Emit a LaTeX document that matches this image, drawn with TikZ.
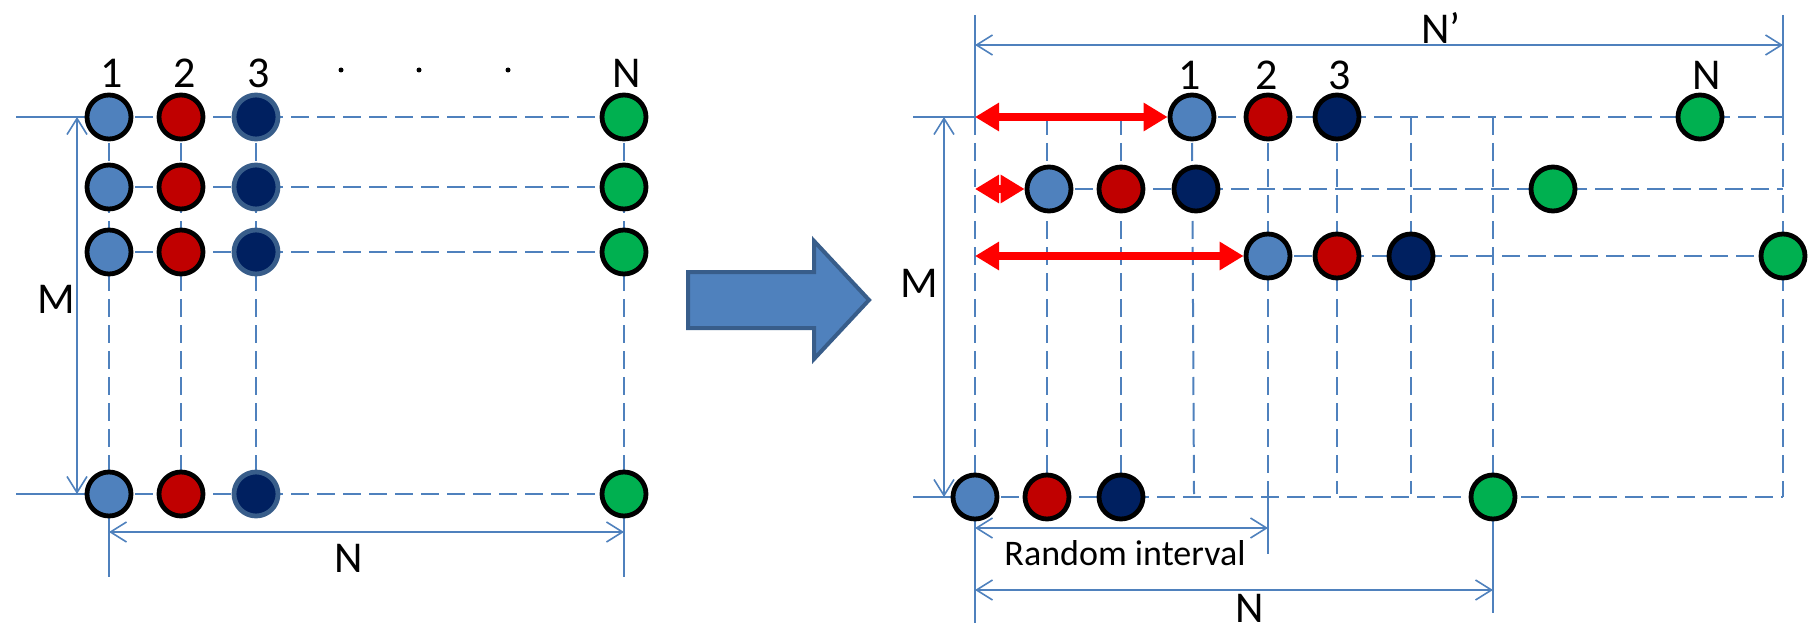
\documentclass[tikz,border=0pt]{standalone}
\usepackage{fontspec}
\setmainfont{Carlito}
\usetikzlibrary{arrows.meta}
\usetikzlibrary{backgrounds}

\definecolor{cellblue}{HTML}{4F81BD}
\definecolor{cellred}{HTML}{C00000}
\definecolor{cellnavy}{HTML}{002060}
\definecolor{cellgreen}{HTML}{00B050}
\definecolor{rimblue}{HTML}{385D8A}

\begin{document}
\begin{tikzpicture}
			[x=0.5pt, y=-0.5pt,
			cell/.style={circle, draw=black, line width=2.4pt, inner sep=0pt, minimum size=22pt},
			ca/.style={cell, fill=cellblue},
			cb/.style={cell, fill=cellred},
			cc/.style={cell, fill=cellnavy},
			ccl/.style={cell, fill=cellnavy, draw=rimblue},
			cn/.style={cell, fill=cellgreen},
			gridline/.style={cellblue, line width=1pt, dash pattern=on 9pt off 4pt},
			measure/.style={cellblue, line width=0.8pt},
			dimline/.style={measure, {Straight Barb[length=8pt, width=10pt]}-{Straight Barb[length=8pt, width=10pt]}},
			shiftarrow/.style={red, line width=4.4pt, {Triangle[length=12pt, width=13.5pt]}-{Triangle[length=12pt, width=13.5pt]}},
			lbl/.style={inner sep=0pt, font=\fontsize{22pt}{22pt}\selectfont},
			note/.style={inner sep=0pt, font=\fontsize{18pt}{18pt}\selectfont},
			dot/.style={circle, fill=black, inner sep=0pt, minimum size=2.5pt}]
			
			\useasboundingbox (0,0) rectangle (1816,631);
			
			\node[ca] (l11) at (109,117) {};
			\node[cb] (l12) at (181,117) {};
			\node[ccl] (l13) at (256,117) {};
			\node[cn] (l1n) at (624,117) {};
			\node[ca] (l21) at (109,187) {};
			\node[cb] (l22) at (181,187) {};
			\node[ccl] (l23) at (256,187) {};
			\node[cn] (l2n) at (624,187) {};
			\node[ca] (l31) at (109,252) {};
			\node[cb] (l32) at (181,252) {};
			\node[ccl] (l33) at (256,252) {};
			\node[cn] (l3n) at (624,252) {};
			\node[ca] (lm1) at (109,494) {};
			\node[cb] (lm2) at (181,494) {};
			\node[ccl] (lm3) at (256,494) {};
			\node[cn] (lmn) at (624,494) {};
			
			\node[lbl] (lt1) at (112,73) {1};
			\node[lbl] (lt2) at (185,73) {2};
			\node[lbl] (lt3) at (259,73) {3};
			\node[dot] (d1) at (341,70) {};
			\node[dot] (d2) at (419,70) {};
			\node[dot] (d3) at (508,70) {};
			\node[lbl] (ltn) at (627,73) {N};
			\node[lbl] (lm) at (56,299) {M};
			\node[lbl] (ln) at (349,558) {N};
			
			\coordinate (la) at (16,117);
			\coordinate (lb) at (16,494);
			\coordinate (ma) at (77,117);
			\coordinate (mb) at (77,494);
			\coordinate (na) at (109,532);
			\coordinate (nb) at (624,532);
			\coordinate (nc) at (109,577);
			\coordinate (nd) at (624,577);
			
			\begin{scope}[on background layer]
				\draw[gridline] (l11.center) to (l1n.center);
				\draw[gridline] (l21.center) to (l2n.center);
				\draw[gridline] (l31.center) to (l3n.center);
				\draw[gridline] (lm1.center) to (lmn.center);
				\draw[gridline] (l11.center) to (lm1.center);
				\draw[gridline] (l12.center) to (lm2.center);
				\draw[gridline] (l13.center) to (lm3.center);
				\draw[gridline] (l1n.center) to (lmn.center);
				\draw[measure] (la) to (l11.center);
				\draw[measure] (lb) to (lm1.center);
				\draw[measure] (lm1.center) to (nc);
				\draw[measure] (lmn.center) to (nd);
			\end{scope}
			\draw[dimline] (ma) to (mb);
			\draw[dimline] (na) to (nb);
			
			\draw[fill=cellblue, draw=rimblue, line width=2pt] (688,272) -- (814,272) -- (814,241) -- (869,300) -- (814,359) -- (814,328) -- (688,328) -- cycle;
			
			\node[ca] (r11) at (1192,117) {};
			\node[cb] (r12) at (1268,117) {};
			\node[cc] (r13) at (1337,117) {};
			\node[cn] (r1n) at (1700,117) {};
			\node[ca] (r21) at (1049,189) {};
			\node[cb] (r22) at (1121,189) {};
			\node[cc] (r23) at (1196,189) {};
			\node[cn] (r2n) at (1553,189) {};
			\node[ca] (r31) at (1268,256) {};
			\node[cb] (r32) at (1337,256) {};
			\node[cc] (r33) at (1411,256) {};
			\node[cn] (r3n) at (1783,256) {};
			\node[ca] (rm1) at (975,497) {};
			\node[cb] (rm2) at (1047,497) {};
			\node[cc] (rm3) at (1121,497) {};
			\node[cn] (rmn) at (1493,497) {};
			
			\node[lbl] (rt1) at (1190,75) {1};
			\node[lbl] (rt2) at (1267,75) {2};
			\node[lbl] (rt3) at (1340,75) {3};
			\node[lbl] (rtn) at (1707,75) {N};
			\node[lbl] (rnp) at (1441,28) {N’};
			\node[lbl] (rm) at (919,283) {M};
			\node[note] (ri) at (1125,553) {Random interval};
			\node[lbl] (rn) at (1250,608) {N};
			
			\coordinate (q1) at (975,117);
			\coordinate (q2) at (975,189);
			\coordinate (q3) at (975,256);
			\coordinate (e1) at (1783,117);
			\coordinate (e2) at (1783,189);
			\coordinate (e4) at (1783,497);
			\coordinate (v1) at (1047,117);
			\coordinate (v2) at (1121,117);
			\coordinate (v6) at (1411,117);
			\coordinate (v7) at (1493,117);
			\coordinate (w3) at (1194,494);
			\coordinate (w4) at (1268,497);
			\coordinate (w5) at (1337,494);
			\coordinate (w6) at (1411,494);
			\coordinate (pa) at (975,15);
			\coordinate (pb) at (1783,15);
			\coordinate (pc) at (975,45);
			\coordinate (pd) at (1783,45);
			\coordinate (ra) at (913,117);
			\coordinate (rb) at (913,497);
			\coordinate (rc) at (944,117);
			\coordinate (rd) at (944,497);
			\coordinate (ia) at (975,528);
			\coordinate (ib) at (1268,528);
			\coordinate (ic) at (1268,554);
			\coordinate (ja) at (975,590);
			\coordinate (jb) at (1493,590);
			\coordinate (jc) at (975,623);
			\coordinate (jd) at (1493,613);
			
			\begin{scope}[on background layer]
				\draw[gridline] (r11.center) to (e1);
				\draw[gridline] (r21.center) to (e2);
				\draw[gridline] (r31.center) to (r3n.center);
				\draw[gridline] (rm1.center) to (e4);
				\draw[gridline] (e1) to (e4);
				\draw[gridline] (q1) to (rm1.center);
				\draw[gridline] (v1) to (rm2.center);
				\draw[gridline] (v2) to (rm3.center);
				\draw[gridline] (r11.center) to (w3);
				\draw[gridline] (r12.center) to (w4);
				\draw[gridline] (r13.center) to (w5);
				\draw[gridline] (v6) to (w6);
				\draw[gridline] (v7) to (rmn.center);
				\draw[measure] (pa) to (q1);
				\draw[measure] (pb) to (e1);
				\draw[measure] (ra) to (q1);
				\draw[measure] (rb) to (rm1.center);
				\draw[measure] (w4) to (ic);
				\draw[measure] (rm1.center) to (jc);
				\draw[measure] (rmn.center) to (jd);
			\end{scope}
			\draw[dimline] (pc) to (pd);
			\draw[dimline] (rc) to (rd);
			\draw[dimline] (ia) to (ib);
			\draw[dimline] (ja) to (jb);
			
			\draw[shiftarrow] (q1) to (r11.west);
			\draw[shiftarrow] (q2) to (r21.west);
			\draw[shiftarrow] (q3) to (r31.west);
		\end{tikzpicture}
\end{document}
